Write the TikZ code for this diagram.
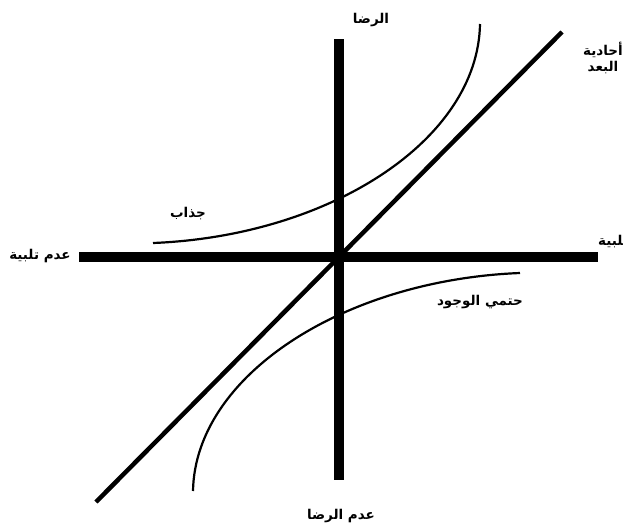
\documentclass[tikz,border=0pt]{standalone}
\usepackage{fontspec}
\TeXXeTstate=1
\newfontfamily\arabicfont[Script=Arabic]{DejaVu Sans}
\tikzset{
  axisline/.style={line width=9.5pt, line cap=butt},
  diagline/.style={line width=4.5pt},
  curveline/.style={line width=2.2pt},
  lbl/.style={inner sep=0pt, font=\arabicfont\bfseries\fontsize{13.5}{15}\selectfont}
}
\begin{document}
\begin{tikzpicture}[x=1pt,y=-1pt]
\useasboundingbox (0,0) rectangle (623,530);
% axes
\coordinate (vt) at (339,39);
\coordinate (vb) at (339,480);
\coordinate (hl) at (79,257);
\coordinate (hr) at (598,257);
\draw[axisline] (vt) -- (vb);
\draw[axisline] (hl) -- (hr);
% diagonal
\coordinate (dl) at (96,502);
\coordinate (dr) at (562,32);
\draw[diagline] (dl) -- (dr);
% curves
\coordinate (ua) at (153,243);
\coordinate (ub) at (480,24);
\draw[curveline] (ua) .. controls (330,236) and (478,140) .. (ub);
\coordinate (la) at (520,273);
\coordinate (lb) at (193,491);
\draw[curveline] (la) .. controls (343,280) and (195,376) .. (lb);
% labels
\node[lbl] (top) at (371,20) {\beginR الرضا\endR};
\node[lbl] (bottom) at (341,516) {\beginR عدم الرضا\endR};
\node[lbl] (left) at (40,256) {\beginR عدم تلبية\endR};
\node[lbl, anchor=west] (right) at (598,242) {\beginR تلبية\endR};
\node[lbl, align=center, anchor=north west] (uni) at (583,42) {\beginR أحادية\endR\\[1pt]\beginR البعد\endR};
\node[lbl] (attr) at (188,214) {\beginR جذاب\endR};
\node[lbl] (must) at (480,302) {\beginR حتمي الوجود\endR};
\end{tikzpicture}
\end{document}
